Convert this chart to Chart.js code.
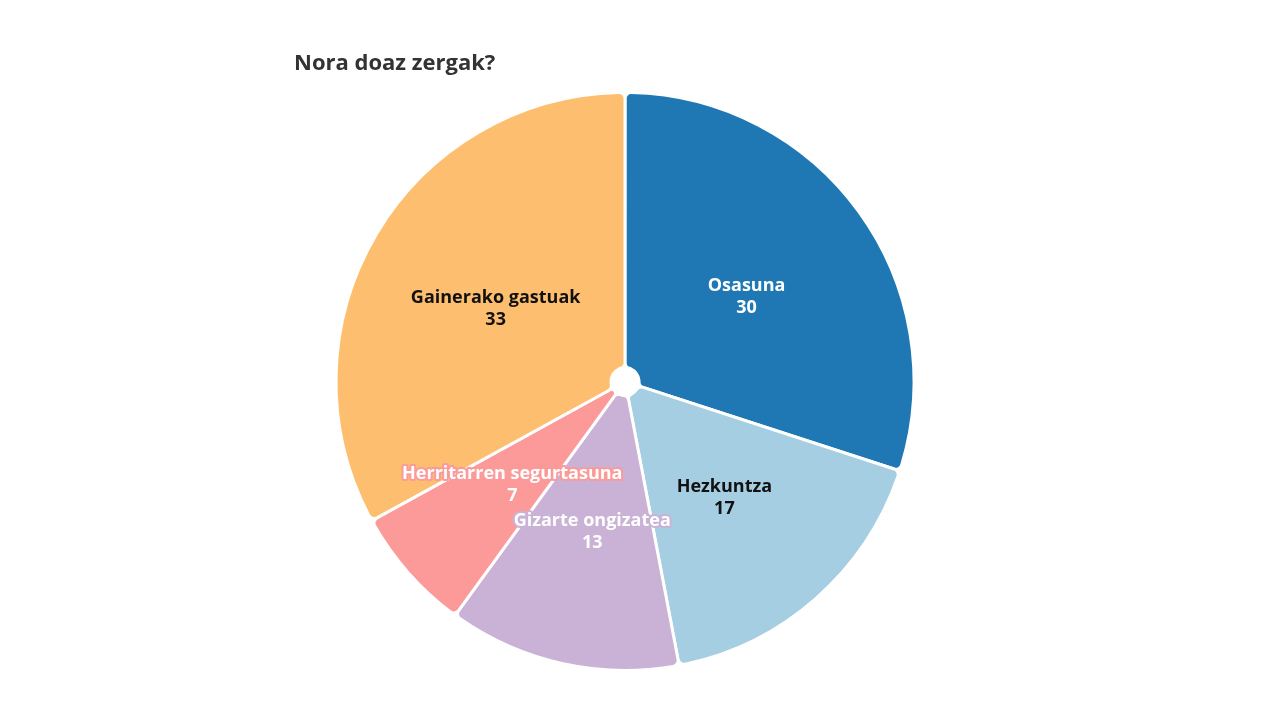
<!DOCTYPE html>
<html>
<head>
<meta charset="utf-8">
<script src="https://cdn.jsdelivr.net/npm/chart.js@4"></script>
<style>
  html, body { margin: 0; padding: 0; background: #fff; }
  #wrap { position: relative; width: 1280px; height: 720px; }
  #title {
    position: absolute; left: 294px; top: 46px;
    font-family: "Open Sans", sans-serif; font-weight: bold; font-size: 22px; color: #333;
    line-height: 30px;
  }
</style>
</head>
<body>
<div id="wrap">
  <div id="title">Nora doaz zergak?</div>
  <canvas id="myChart" width="1280" height="720"></canvas>
</div>
<script>
var categories = ['Osasuna', 'Hezkuntza', 'Gizarte ongizatea', 'Herritarren segurtasuna', 'Gainerako gastuak'];
var values = [30, 17, 13, 7, 33];
var sliceColors = ['#1f78b4', '#a6cee3', '#cab2d6', '#fb9a99', '#fdbf6f'];
var labelColors = ['#ffffff', '#111111', '#ffffff', '#ffffff', '#111111'];
var haloColors = [null, null, '#cab2d6', '#fb9a99', null];

// draw the name + value inside each slice
var sliceLabels = {
    id: 'sliceLabels',
    afterDatasetsDraw: function (chart) {
        var ctx = chart.ctx;
        var meta = chart.getDatasetMeta(0);
        ctx.save();
        ctx.font = 'bold 18px "Open Sans", sans-serif';
        ctx.textAlign = 'center';
        ctx.textBaseline = 'middle';
        ctx.lineJoin = 'round';
        meta.data.forEach(function (arc, i) {
            var mid = (arc.startAngle + arc.endAngle) / 2;
            var r = arc.outerRadius * 0.52;
            var x = arc.x + Math.cos(mid) * r;
            var y = arc.y + Math.sin(mid) * r + 4;
            var lines = [categories[i], String(values[i])];
            lines.forEach(function (t, k) {
                var ly = y + (k - 0.5) * 22;
                if (haloColors[i]) {
                    ctx.strokeStyle = haloColors[i];
                    ctx.lineWidth = 4;
                    ctx.strokeText(t, x, ly);
                }
                ctx.fillStyle = labelColors[i];
                ctx.fillText(t, x, ly);
            });
        });
        ctx.restore();
    }
};

var ctx = document.getElementById('myChart').getContext('2d');
var myChart = new Chart(ctx, {
    type: 'doughnut',
    data: {
        labels: categories,
        datasets: [{
            data: values,
            backgroundColor: sliceColors,
            borderColor: '#ffffff',
            borderWidth: 3,
            borderRadius: 6
        }]
    },
    options: {
        responsive: false,
        animation: false,
        cutout: 14,
        layout: { padding: { top: 91, bottom: 48, left: 0, right: 30 } },
        plugins: {
            legend: { display: false },
            tooltip: { enabled: false }
        }
    },
    plugins: [sliceLabels]
});
</script>
</body>
</html>
